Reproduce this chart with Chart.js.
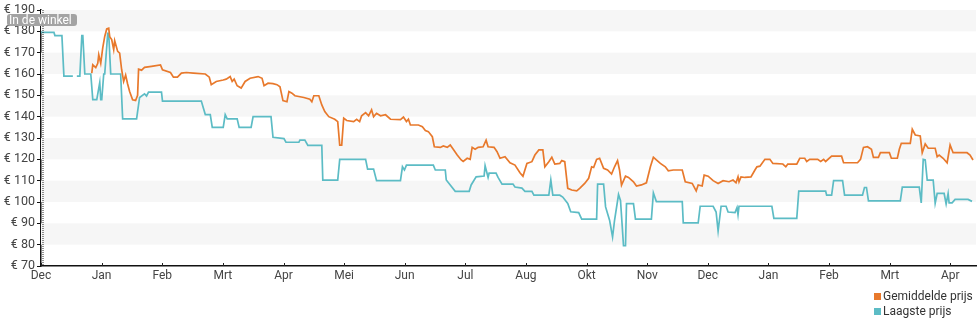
<!DOCTYPE html>
<html>
<head>
<meta charset="utf-8">
<title>Prijsgeschiedenis</title>
<script src="https://cdn.jsdelivr.net/npm/chart.js@4.4.1/dist/chart.umd.min.js"></script>
<style>
  body { margin: 0; background: #fff; font-family: Roboto, "Noto Sans", sans-serif; }
  #wrap { position: relative; width: 980px; height: 325px; }
  #legend { position: absolute; left: 874px; top: 289px; font-size: 12px; color: #333; line-height: 15px; }
  #legend div { white-space: nowrap; }
  #legend span { display: inline-block; width: 7px; height: 7px; margin-right: 2px; }
</style>
</head>
<body>
<div id="wrap">
  <canvas id="price-chart" width="980" height="325"></canvas>
  <div id="legend"></div>
</div>
<script>
// x in days since the first tick (Dec), y in euro
const monthLabels = ["Dec", "Jan", "Feb", "Mrt", "Apr", "Mei", "Jun", "Jul", "Aug", "Okt", "Nov", "Dec", "Jan", "Feb", "Mrt", "Apr"];
const tickDays = [0, 30.4, 60.9, 91.3, 121.8, 152.2, 182.6, 213.1, 243.5, 274, 304.4, 334.8, 365.3, 395.7, 426.2, 456.6];
const priceTicks = [70, 80, 90, 100, 110, 120, 130, 140, 150, 160, 170, 180, 190];

const avgDays = [25.5, 26, 27.5, 28.5, 29, 30, 31, 32, 33, 34, 34.5, 35.5, 36.5, 37, 38.5, 39.5, 40.5, 41.5, 42.5, 43.5,
  44.5, 46, 47.5, 48.5, 49, 50.5, 52, 55.5, 60, 61, 65, 66.5, 68.5, 70.5, 73, 76.5, 82.5, 84.5, 85.5, 88,
  91.5, 93, 95, 96, 97, 98.5, 100.5, 102.5, 105, 109, 111, 112, 114, 116.5, 118.5, 120, 121.5, 123.5, 124.5, 126,
  127.5, 132, 135, 136, 137, 139.5, 141, 142.5, 144.5, 147.5, 149, 150, 151, 152, 153.5, 157, 158.5, 160, 161, 163,
  164.5, 166, 167, 168.5, 170.5, 173, 175.5, 180.5, 182, 183.5, 184.5, 185.5, 189.5, 191.5, 193, 194.5, 196.5, 197.5, 200.5, 202,
  204, 205.5, 207, 209, 211, 212, 214, 215.5, 216.5, 218, 219.5, 222, 223.5, 224.5, 227.5, 229, 230.5, 233, 235.5, 238,
  240.5, 242, 244, 246.5, 248, 250, 252, 253, 255, 256.5, 258, 260.5, 261.5, 263, 264.5, 266.5, 269, 270.5, 273, 275,
  276.5, 277.5, 279, 280.5, 282.5, 284.5, 286.5, 288, 289.5, 290.5, 291.5, 293.5, 295, 297.5, 299, 301.5, 304, 306, 307.5, 309,
  311, 313.5, 315, 317.5, 322, 323.5, 327, 329, 330, 332, 333, 335, 337.5, 340, 342.5, 345.5, 347.5, 349, 350, 350.5,
  351.5, 353.5, 356.5, 358.5, 359.5, 361, 363.5, 366, 367.5, 372.5, 374, 375, 379.5, 381, 383.5, 384.5, 386, 390, 391.5, 393,
  394, 397, 402, 403, 410, 411.5, 413, 415, 417, 418, 420.5, 421.5, 426, 427, 430, 431, 432, 436.5, 437.5, 439,
  441.5, 442.5, 444, 445.5, 449, 450, 451, 453, 455, 456.5, 458, 465, 466.5, 468];
const avgPrices = [160.4, 164.3, 163, 165, 169, 165, 172.2, 177.6, 181.1, 181.5, 177.5, 176.1, 171.4, 175.6, 170.6, 169.8, 162, 156.5, 159.5, 155.3,
  151.8, 147.9, 147.6, 150, 162.3, 161.8, 163.1, 163.6, 164.3, 162, 160.7, 158.5, 158.5, 160.4, 160.7, 160.4, 160, 158.5, 155, 156.5,
  157.2, 157.6, 158.8, 156.5, 157.6, 154.5, 153.4, 156.5, 158, 158.8, 158, 154.5, 155.7, 155.5, 155, 154, 147.5, 147, 151.8, 151,
  149.8, 149, 148.2, 147, 149.8, 149.8, 145.5, 142.4, 140, 138.8, 137.7, 126.7, 126.7, 139.3, 138.2, 137.7, 138.8, 137.7, 140.4, 141.9,
  140.4, 143.2, 140, 141.6, 140.4, 140.9, 138.8, 138.6, 139.8, 137.7, 138.8, 136.1, 136.1, 135.3, 133.5, 133, 130.6, 125.9, 125.6, 126.3,
  125.6, 126.7, 124.7, 122, 119.7, 119, 120.5, 120, 125.6, 124.7, 125.6, 125.9, 129, 125.9, 125.6, 123.6, 120.5, 121.2, 118.4, 117.3,
  113.7, 112.1, 118.1, 118.9, 122, 124.4, 124.4, 116.5, 118.9, 121, 117.8, 118.1, 119.4, 118.9, 106.4, 105.6, 105.2, 106.4, 108.7, 111.1,
  116.5, 116.2, 120, 120.5, 115.8, 115, 113.1, 116.5, 119.4, 115, 107.9, 112.1, 111.5, 109.5, 107.5, 108, 109, 116.5, 121, 119.7,
  118.1, 116.5, 114.6, 115, 115, 109.5, 108.7, 105.2, 108, 107.5, 112.6, 112.1, 110, 108.7, 110, 109.5, 110.3, 109, 111.8, 109.5,
  111.8, 111.5, 111.8, 115, 116.5, 116.8, 120, 120, 118.1, 117.8, 116.5, 117.8, 117.8, 120.5, 120.5, 119, 120, 120, 119, 120,
  119, 121.5, 121.5, 118.4, 118.4, 120, 125.6, 125.9, 124.7, 120.9, 120.9, 123.1, 123.1, 120.5, 120.5, 124.7, 127.5, 127.5, 134.1, 131.4,
  131, 123.1, 127.2, 125.2, 125.2, 121.2, 122, 120.5, 118.4, 126.7, 123.1, 123.1, 122, 119.7];

const lowDays = [0, 6.5, 7, 10.5, 11.5, 16, 17, 18, 19.5, 20.5, 21, 22, 25, 26, 28, 29.5, 30, 30.5, 31.5, 32,
  33.5, 34, 35, 40, 41, 48, 49.5, 52, 53, 54, 60.5, 61, 80.5, 82.5, 85, 86, 91.5, 92.5, 93.5, 98.5,
  99.5, 105.5, 106.5, 115.5, 116.5, 122, 123, 129.5, 130, 132.5, 134, 141, 141.5, 149, 150, 163, 164, 167, 168.5, 180.5,
  181.5, 182.5, 183.5, 197, 198, 203, 203.5, 208, 215, 216, 218.5, 222.5, 223, 224.5, 225, 228.5, 229.5, 231.5, 237, 238,
  241.5, 243, 246.5, 247.5, 255, 256, 257, 260.5, 262, 264.5, 266, 270, 271.5, 279, 279.5, 282.5, 283.5, 285.5, 287, 288,
  290, 291, 292.5, 293.5, 294, 297.5, 298.5, 306.5, 307.5, 309, 322, 322.5, 330, 331, 337.5, 339, 340, 341.5, 344, 345,
  348.5, 349.5, 350, 350.5, 367, 368, 379.5, 380.5, 394, 394.5, 397, 398, 402.5, 403.5, 412.5, 413.5, 414.5, 415.5, 431.5, 432.5,
  441, 442, 443, 444, 445, 448, 449, 450, 453.5, 454.5, 455.5, 456, 457.5, 459, 465.5, 467.5];
const lowPrices = [179.5, 179.5, 178, 178, 159, 159, null, 159, 159, 178, 178, 160, 160, 148, 148, 156, 148, 148, 160, 160,
  179, 179, 160, 160, 139, 139, 149, 150.7, 149.7, 151.5, 151.5, 147.3, 147.3, 141, 141, 135, 135, 141, 139, 139,
  135, 135, 140, 140, 130.3, 129.7, 128, 128, 129, 129, 126.5, 126.5, 110.3, 110.3, 120, 120, 115.4, 115.4, 110, 110,
  116.5, 115, 117.3, 117.3, 115, 115, 110.3, 105, 105, 108, 111.8, 112.2, 117, 111.5, 113.5, 113.5, 111.5, 108.4, 108.4, 107,
  106.5, 105, 105, 103.2, 103.2, 110.3, 103.2, 103.2, 102.3, 99.3, 95.4, 95, 92, 92, 108.4, 108.4, 97.7, 91.5, 83.6, 91.4,
  103.5, 100.6, 79.5, 79.5, 99.2, 99.2, 92, 92, 104.3, 100.2, 100.2, 90.2, 90.2, 98, 98, 95.3, 86.4, 98, 98, 95.3,
  95, 97.4, 94, 98, 98, 92.3, 92.3, 105.1, 105.1, 103.2, 103.2, 110, 110, 103.2, 103.2, 106.8, 106.8, 100.5, 100.5, 107,
  107, 99.6, 120, 119.7, 110.3, 110.3, 99.4, 104, 104, 99.1, 104, 99.6, 99.6, 101.2, 101.2, 100.3];

const orange = "#e8792c";
const teal = "#5cbcc5";

function toPoints(days, prices) {
  return days.map((d, i) => ({ x: d, y: prices[i] }));
}

// light grey bands behind every other 10 euro step, plus the shop marker and x tick marks
const chartDecor = {
  id: "chartDecor",
  beforeDatasetsDraw(chart) {
    const { ctx, chartArea, scales } = chart;
    ctx.save();
    ctx.fillStyle = "#f6f6f6";
    for (let i = 0; i < priceTicks.length - 1; i++) {
      if (i % 2 === 1) {
        const yTop = scales.y.getPixelForValue(priceTicks[i + 1]);
        const yBot = scales.y.getPixelForValue(priceTicks[i]);
        ctx.fillRect(chartArea.left, yTop, chartArea.right - chartArea.left, yBot - yTop);
      }
    }
    ctx.restore();
  },
  afterDraw(chart) {
    const { ctx, chartArea, scales } = chart;
    ctx.save();
    // dotted "in de winkel" line
    const x0 = chartArea.left + 1.5;
    ctx.strokeStyle = "#222";
    ctx.lineWidth = 1;
    ctx.setLineDash([1, 1]);
    ctx.beginPath();
    ctx.moveTo(x0 + 0.5, chartArea.top);
    ctx.lineTo(x0 + 0.5, chartArea.bottom);
    ctx.stroke();
    ctx.setLineDash([]);

    // label box
    ctx.fillStyle = "#a3a3a3";
    ctx.beginPath();
    ctx.roundRect(7, 14, 70, 12, 3);
    ctx.fill();
    ctx.fillStyle = "#fff";
    ctx.font = "12px Roboto";
    ctx.textBaseline = "middle";
    ctx.fillText("In de winkel", 9, 20.5);

    // small upward tick marks on the x axis
    ctx.strokeStyle = "#222";
    ctx.lineWidth = 1;
    tickDays.forEach(function (d) {
      const x = Math.round(scales.x.getPixelForValue(d)) + 0.5;
      ctx.beginPath();
      ctx.moveTo(x, chartArea.bottom - 3);
      ctx.lineTo(x, chartArea.bottom);
      ctx.stroke();
    });
    ctx.restore();
  }
};

const ctx = document.getElementById("price-chart").getContext("2d");
const chart = new Chart(ctx, {
  type: "line",
  data: {
    datasets: [
      {
        label: "Gemiddelde prijs",
        data: toPoints(avgDays, avgPrices),
        borderColor: orange,
        backgroundColor: orange,
        borderWidth: 1.7,
        pointRadius: 0,
        tension: 0
      },
      {
        label: "Laagste prijs",
        data: toPoints(lowDays, lowPrices),
        borderColor: teal,
        backgroundColor: teal,
        borderWidth: 1.7,
        pointRadius: 0,
        tension: 0,
        spanGaps: false
      }
    ]
  },
  options: {
    responsive: false,
    animation: false,
    layout: { padding: { top: 10, right: 4, bottom: 39, left: 0 } },
    plugins: {
      legend: { display: false },
      tooltip: { enabled: false }
    },
    scales: {
      x: {
        type: "linear",
        min: 0,
        max: 469.5,
        afterBuildTicks: function (scale) {
          scale.ticks = tickDays.map(function (d) { return { value: d }; });
        },
        afterFit: function (scale) { scale.height = 20; },
        ticks: {
          autoSkip: false,
          maxRotation: 0,
          padding: 3,
          color: "#444",
          font: { family: "Roboto", size: 12 },
          callback: function (value, index) { return monthLabels[index]; }
        },
        grid: { display: false, drawTicks: false },
        border: { display: true, color: "#111", width: 1.5 }
      },
      y: {
        min: 70,
        max: 190,
        afterBuildTicks: function (scale) {
          scale.ticks = priceTicks.map(function (v) { return { value: v }; });
        },
        afterFit: function (scale) { scale.width = 41; },
        ticks: {
          padding: 2,
          color: "#444",
          font: { family: "Roboto", size: 12.5 },
          callback: function (value) { return "€ " + value; }
        },
        grid: { drawOnChartArea: false, tickLength: 4, color: "#111" },
        border: { display: true, color: "#111", width: 1.5 }
      }
    }
  },
  plugins: [chartDecor]
});

// legend stacked in the bottom right corner
const legendEl = document.getElementById("legend");
chart.data.datasets.forEach(function (ds) {
  const row = document.createElement("div");
  row.innerHTML = '<span style="background:' + ds.borderColor + '"></span>' + ds.label;
  legendEl.appendChild(row);
});
</script>
</body>
</html>
